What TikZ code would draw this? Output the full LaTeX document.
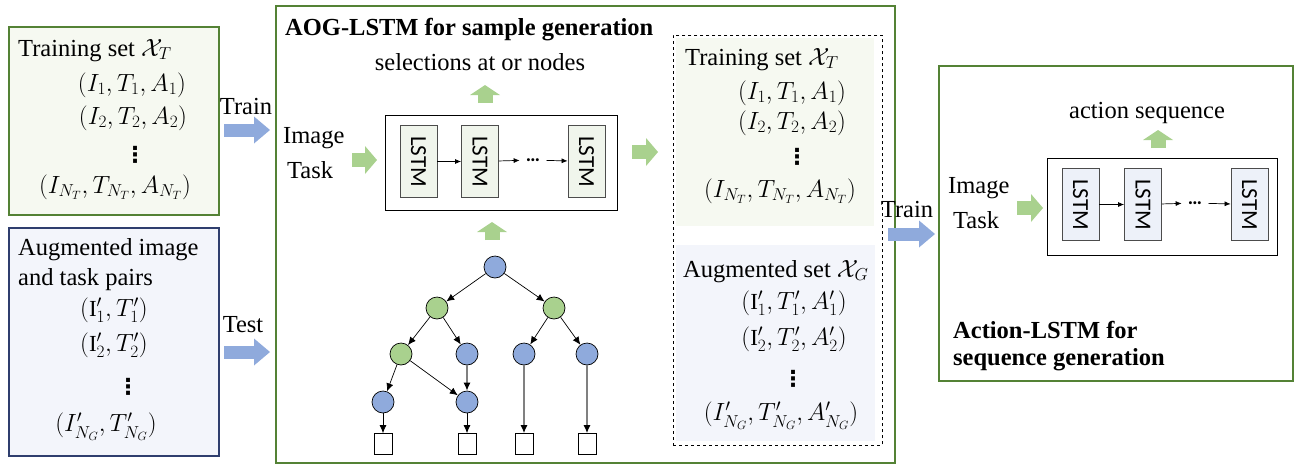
\documentclass[tikz,border=0pt]{standalone}
\usepackage{amsmath,amssymb}
\usepackage{fontspec}
\setmainfont{Liberation Serif}
\newfontfamily\cellfont{Carlito}
\newfontfamily\dotsfont{DejaVu Sans}
\usepackage{tikz}
\usetikzlibrary{arrows.meta, positioning, calc}
\definecolor{darkgreen}{RGB}{84,130,53}
\definecolor{darkblue}{RGB}{47,62,110}
\definecolor{palegreen}{RGB}{246,249,241}
\definecolor{paleblue}{RGB}{243,245,251}
\definecolor{cellgreen}{RGB}{240,245,236}
\definecolor{cellblue}{RGB}{237,241,249}
\definecolor{fatblue}{RGB}{143,170,220}
\definecolor{fatgreen}{RGB}{169,209,142}
\newcommand{\figfont}{\fontsize{24.5}{29}\selectfont}
\newcommand{\vdts}{{\dotsfont\bfseries\fontsize{22}{26}\selectfont ⋮}}
\tikzset{
  panel/.style={draw=darkgreen, line width=1.5pt, anchor=north west, inner sep=0pt},
  dset/.style={draw, dashed, line width=0.8pt, anchor=north west, inner sep=0pt},
  bgbox/.style={anchor=north west, inner sep=0pt},
  seqbox/.style={draw, line width=0.9pt, fill=white, anchor=north west, inner sep=0pt},
  lcell/.style={draw=black!70, line width=0.8pt, rotate=-90, minimum width=72pt,
    minimum height=37pt, inner sep=0pt, font=\cellfont\fontsize{23}{28}\selectfont},
  cdots/.style={font=\cellfont\fontsize{20}{24}\selectfont\bfseries, inner sep=6pt},
  cellarr/.style={-{Latex[length=6pt,width=5pt]}, line width=0.7pt},
  fatb/.style={draw=fatblue, line width=13pt, -{Triangle[length=16pt,width=27pt,line width=0pt]}},
  fatg/.style={draw=fatgreen, line width=14pt, -{Triangle[length=12pt,width=28pt,line width=0pt]}},
  fatup/.style={fatg, line width=15pt, -{Triangle[length=10pt,width=30pt,line width=0pt]}},
  ornode/.style={circle, draw, line width=0.7pt, fill=fatgreen, minimum size=22pt, inner sep=0pt},
  andnode/.style={ornode, fill=fatblue},
  term/.style={rectangle, draw, line width=0.7pt, fill=white, minimum width=18pt,
    minimum height=21pt, inner sep=0pt},
  tarr/.style={-{Latex[length=8pt,width=7pt]}, line width=0.7pt},
  garr/.style={-{Latex[length=8pt,width=7pt,color=black]}, draw=gray, line width=1.2pt},
  txt/.style={anchor=base west, inner sep=0pt},
  ctxt/.style={anchor=base, inner sep=0pt},
  mth/.style={inner sep=0pt, font=\fontsize{23}{28}\selectfont},
  ttl/.style={txt, font=\figfont\bfseries}
}

\begin{document}
\begin{tikzpicture}[x=1pt, y=-1pt, font=\figfont]
  \useasboundingbox (0,0) rectangle (1294,464);

  % input sets
  \node[panel, fill=palegreen, minimum width=210pt, minimum height=188pt] (trnbox) at (8,26) {};
  \node[txt] (trnttl) at (18,56) {Training set $\mathcal{X}_T$};
  \node[mth] (trn1) at (132,85) {$(I_1,T_1,A_1)$};
  \node[mth] (trn2) at (133,118) {$(I_2,T_2,A_2)$};
  \node[mth] (trn3) at (135,155) {\vdts};
  \node[mth] (trn4) at (115,187) {$(I_{N_T},T_{N_T},A_{N_T})$};

  \node[panel, draw=darkblue, fill=paleblue, minimum width=210pt, minimum height=228pt] (augbox) at (8,227) {};
  \node[txt] (augttl) at (18,255) {Augmented image};
  \node[txt] (augttl2) at (18,285) {and task pairs};
  \node[mth] (aug1) at (114,310) {$(\mathrm{I}'_1,T'_1)$};
  \node[mth] (aug2) at (114,345) {$(\mathrm{I}'_2,T'_2)$};
  \node[mth] (aug3) at (128,387) {\vdts};
  \node[mth] (aug4) at (106,427) {$(I'_{N_G},T'_{N_G})$};

  \node[ctxt] (lbltrain) at (246,114) {Train};
  \node[ctxt] (lbltest) at (243,332) {Test};
  \coordinate (trA) at (224,130);
  \coordinate (trB) at (270,130);
  \coordinate (tsA) at (224,352);
  \coordinate (tsB) at (270,352);
  \draw[fatb] (trA) -- (trB);
  \draw[fatb] (tsA) -- (tsB);

  % AOG-LSTM
  \node[panel, minimum width=619pt, minimum height=457pt] (aogbox) at (275,5) {};
  \node[ttl] (aogttl) at (285,35) {AOG-LSTM for sample generation};
  \node[ctxt] (aogout) at (480,70) {selections at or nodes};
  \node[txt] (mimg) at (283,143) {Image};
  \node[txt] (mtask) at (287,178) {Task};

  \node[seqbox, minimum width=232pt, minimum height=95pt] (mseq) at (385,115) {};
  \node[lcell, fill=cellgreen] (ml1) at (418.5,161.5) {LSTM};
  \node[lcell, fill=cellgreen] (ml2) at (480,161.5) {LSTM};
  \node[lcell, fill=cellgreen] (ml3) at (586.5,161.5) {LSTM};
  \node[cdots] (mdots) at (533,160) {\dots};
  \draw[cellarr] (ml1) -- (ml2);
  \draw[cellarr] (ml2) -- (mdots);
  \draw[cellarr] (mdots) -- (ml3);

  \coordinate (miA) at (352,160);
  \coordinate (miB) at (377,160);
  \coordinate (moA) at (632,152);
  \coordinate (moB) at (658,152);
  \coordinate (muA) at (485,103);
  \coordinate (muB) at (485,85);
  \coordinate (mtA) at (492,240);
  \coordinate (mtB) at (492,222);
  \draw[fatg] (miA) -- (miB);
  \draw[fatg] (moA) -- (moB);
  \draw[fatup] (muA) -- (muB);
  \draw[fatup] (mtA) -- (mtB);

  % and-or graph
  \node[andnode] (root) at (495,267) {};
  \node[ornode] (o1) at (437,308) {};
  \node[ornode] (o2) at (554,308) {};
  \node[ornode] (o3) at (401,354) {};
  \node[andnode] (a1) at (467,354) {};
  \node[andnode] (a2) at (524,354) {};
  \node[andnode] (a3) at (587,354) {};
  \node[andnode] (a4) at (383,402) {};
  \node[andnode] (a5) at (467,402) {};
  \node[term] (t1) at (383,444) {};
  \node[term] (t2) at (467,444) {};
  \node[term] (t3) at (524,444) {};
  \node[term] (t4) at (587,444) {};
  \draw[tarr] (root) -- (o1);
  \draw[tarr] (root) -- (o2);
  \draw[tarr] (o1) -- (o3);
  \draw[tarr] (o1) -- (a1);
  \draw[tarr] (o2) -- (a2);
  \draw[tarr] (o2) -- (a3);
  \draw[tarr] (o3) -- (a4);
  \draw[tarr] (o3) -- (a5);
  \draw[garr] (a1) -- (a5);
  \draw[tarr] (a4) -- (t1);
  \draw[tarr] (a5) -- (t2);
  \draw[garr] (a2) -- (t3);
  \draw[garr] (a3) -- (t4);

  % generated sets
  \node[bgbox, fill=palegreen, minimum width=198pt, minimum height=188pt] (dtrnbg) at (676,38) {};
  \node[bgbox, fill=paleblue, minimum width=199pt, minimum height=196pt] (daugbg) at (676,245) {};
  \node[dset, minimum width=209pt, minimum height=410pt] (dset) at (673,35) {};
  \node[txt] (dtrnttl) at (685,65) {Training set $\mathcal{X}_T$};
  \node[mth] (dtrn1) at (792,93) {$(I_1,T_1,A_1)$};
  \node[mth] (dtrn2) at (792,123) {$(I_2,T_2,A_2)$};
  \node[mth] (dtrn3) at (797,157) {\vdts};
  \node[mth] (dtrn4) at (780,191) {$(I_{N_T},T_{N_T},A_{N_T})$};
  \node[txt] (daugttl) at (683,277) {Augmented set $\mathcal{X}_G$};
  \node[mth] (daug1) at (794,303) {$(\mathrm{I}'_1,T'_1,A'_1)$};
  \node[mth] (daug2) at (794,339) {$(\mathrm{I}'_2,T'_2,A'_2)$};
  \node[mth] (daug3) at (793,379) {\vdts};
  \node[mth] (daug4) at (781,416) {$(I'_{N_G},T'_{N_G},A'_{N_G})$};

  \node[ctxt] (lbltrain2) at (907,217) {Train};
  \coordinate (tr2A) at (888,234);
  \coordinate (tr2B) at (935,234);
  \draw[fatb] (tr2A) -- (tr2B);

  % Action-LSTM
  \node[panel, minimum width=354pt, minimum height=315pt] (actbox) at (938,65) {};
  \node[ctxt] (actout) at (1147,118) {action sequence};
  \node[txt] (aimg) at (948,193) {Image};
  \node[txt] (atask) at (953,228) {Task};
  \node[seqbox, minimum width=230pt, minimum height=97pt] (aseq) at (1047,158) {};
  \node[lcell, fill=cellblue] (al1) at (1080.5,204.5) {LSTM};
  \node[lcell, fill=cellblue] (al2) at (1143,204.5) {LSTM};
  \node[lcell, fill=cellblue] (al3) at (1249.5,204.5) {LSTM};
  \node[cdots] (adots) at (1195,203) {\dots};
  \draw[cellarr] (al1) -- (al2);
  \draw[cellarr] (al2) -- (adots);
  \draw[cellarr] (adots) -- (al3);
  \coordinate (aiA) at (1017,208);
  \coordinate (aiB) at (1043,208);
  \coordinate (auA) at (1158,148);
  \coordinate (auB) at (1158,130);
  \draw[fatg] (aiA) -- (aiB);
  \draw[fatup] (auA) -- (auB);
  \node[ttl] (actttl) at (953,338) {Action-LSTM for};
  \node[ttl] (actttl2) at (953,365) {sequence generation};
\end{tikzpicture}
\end{document}
